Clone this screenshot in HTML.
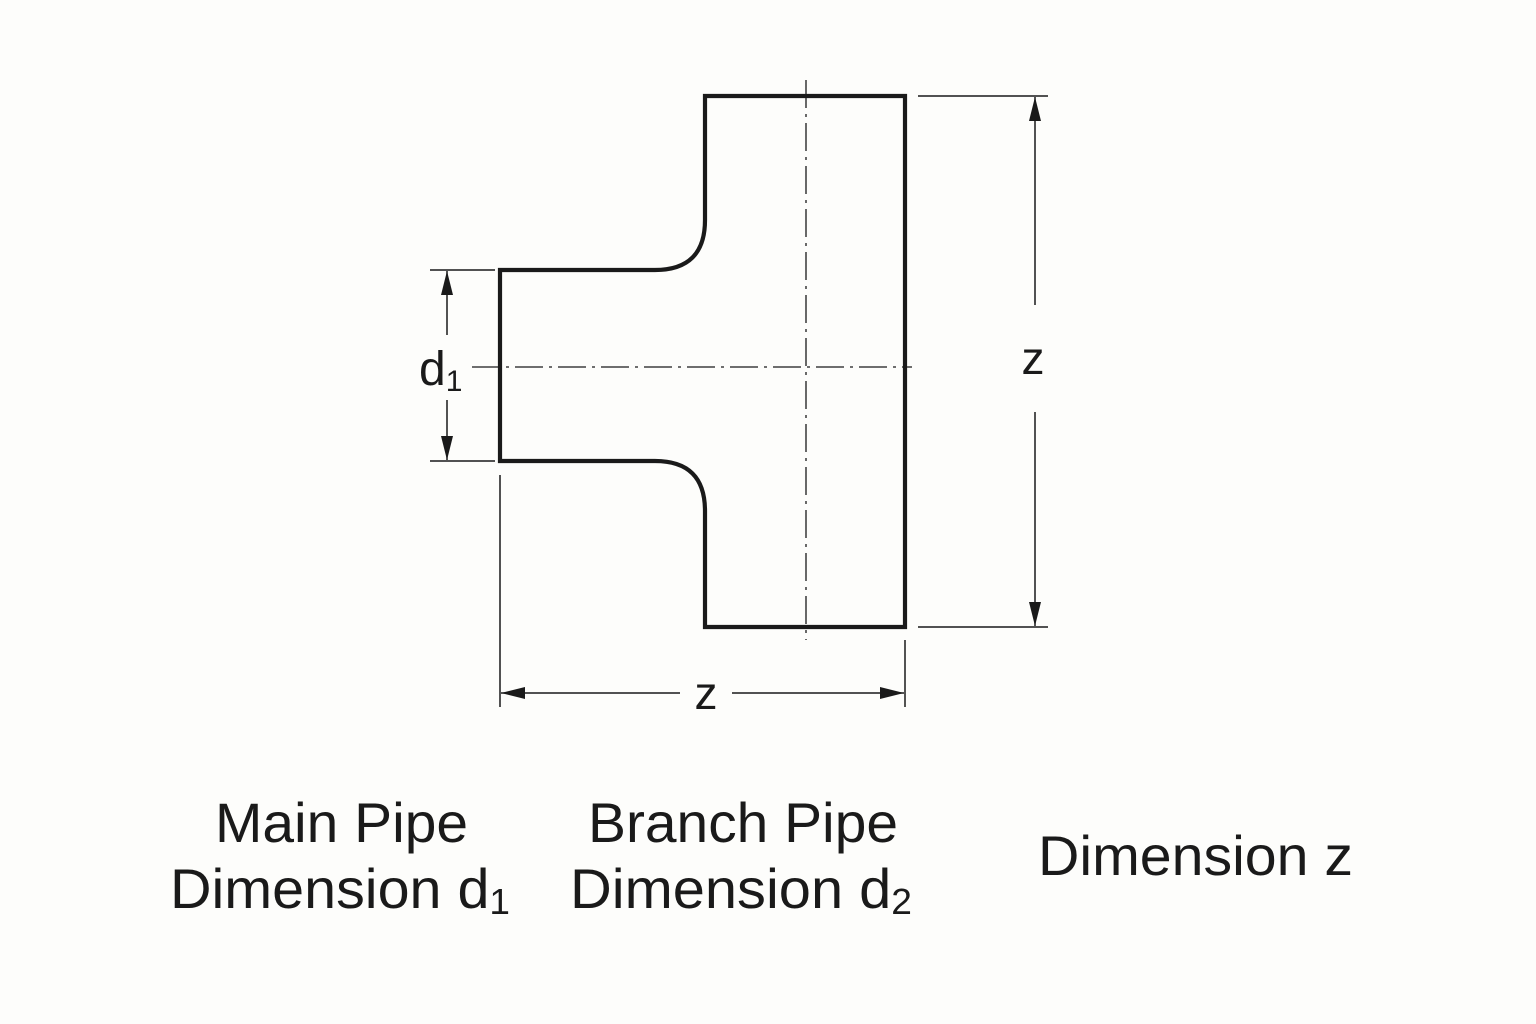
<!DOCTYPE html>
<html><head><meta charset="utf-8"><style>
html,body{margin:0;padding:0;background:#fdfdfb;}
svg{display:block;}
text{font-family:"Liberation Sans",sans-serif;fill:#1a1a1a;}
</style></head><body>
<svg width="1536" height="1024" viewBox="0 0 1536 1024" xmlns="http://www.w3.org/2000/svg">
<defs>
<marker id="ar" viewBox="0 0 24 12" refX="24" refY="6" markerWidth="24" markerHeight="12" markerUnits="userSpaceOnUse" orient="auto">
<path d="M0,0 L24,6 L0,12 z" fill="#1a1a1a"/></marker>
</defs>
<rect width="1536" height="1024" fill="#fdfdfb"/>
<path d="M500,270 L655,270 Q705,270 705,220 L705,96 L905,96 L905,627 L705,627 L705,511 Q705,461 655,461 L500,461 Z" fill="none" stroke="#1a1a1a" stroke-width="4.2" stroke-linejoin="miter"/>
<g stroke="#1a1a1a" stroke-width="1.3" fill="none" stroke-dasharray="28,6,3,6">
<line x1="806" y1="80" x2="806" y2="640"/>
<line x1="472" y1="367" x2="912" y2="367"/>
</g>
<g stroke="#1a1a1a" stroke-width="1.5" fill="none">
<line x1="918" y1="96" x2="1048" y2="96"/>
<line x1="918" y1="627" x2="1048" y2="627"/>
<line x1="1035" y1="305" x2="1035" y2="97" marker-end="url(#ar)"/>
<line x1="1035" y1="412" x2="1035" y2="626" marker-end="url(#ar)"/>
<line x1="430" y1="270" x2="495" y2="270"/>
<line x1="430" y1="461" x2="495" y2="461"/>
<line x1="447" y1="335" x2="447" y2="271" marker-end="url(#ar)"/>
<line x1="447" y1="400" x2="447" y2="460" marker-end="url(#ar)"/>
<line x1="500" y1="475" x2="500" y2="707"/>
<line x1="905" y1="640" x2="905" y2="707"/>
<line x1="680" y1="693" x2="501" y2="693" marker-end="url(#ar)"/>
<line x1="732" y1="693" x2="904" y2="693" marker-end="url(#ar)"/>
</g>
<text x="1033" y="374" font-size="46" text-anchor="middle">z</text>
<text x="706" y="709" font-size="46" text-anchor="middle">z</text>
<text x="419" y="385" font-size="48">d<tspan font-size="30" dy="6">1</tspan></text>
<text x="215" y="842" font-size="56" textLength="253" lengthAdjust="spacingAndGlyphs">Main Pipe</text>
<text x="170" y="908" font-size="56" textLength="340" lengthAdjust="spacingAndGlyphs">Dimension d<tspan font-size="36" dy="6">1</tspan></text>
<text x="588" y="842" font-size="56" textLength="310" lengthAdjust="spacingAndGlyphs">Branch Pipe</text>
<text x="570" y="908" font-size="56" textLength="342" lengthAdjust="spacingAndGlyphs">Dimension d<tspan font-size="36" dy="6">2</tspan></text>
<text x="1038" y="875" font-size="56" textLength="315" lengthAdjust="spacingAndGlyphs">Dimension z</text>
</svg>
</body></html>
